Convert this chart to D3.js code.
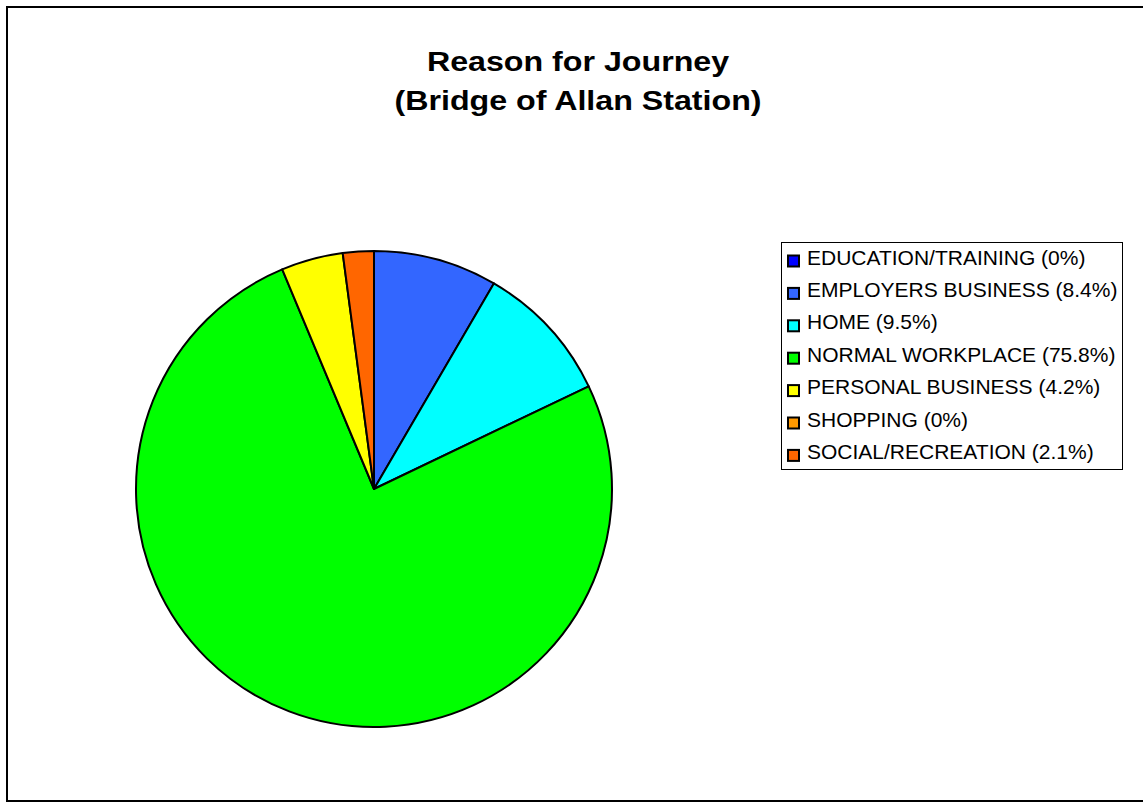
<!DOCTYPE html>
<html><head><meta charset="utf-8">
<script src="https://cdn.jsdelivr.net/npm/d3@7"></script>
<style>body{margin:0;background:#fff}svg{display:block}</style>
</head><body>
<svg id="chart" width="1143" height="803"></svg>
<script>
const categories = ["EDUCATION/TRAINING","EMPLOYERS BUSINESS","HOME","NORMAL WORKPLACE","PERSONAL BUSINESS","SHOPPING","SOCIAL/RECREATION"];
const values = [0, 8.4, 9.5, 75.8, 4.2, 0, 2.1];
const colors = ["#0000FF","#3366FF","#00FFFF","#00FF00","#FFFF00","#FF9900","#FF6600"];
const titleLines = ["Reason for Journey","(Bridge of Allan Station)"];

const svg = d3.select("#chart");
const font = "Liberation Sans, Arial, sans-serif";

svg.append("rect").attr("x",7).attr("y",7).attr("width",1150).attr("height",794)
  .attr("fill","#fff").attr("stroke","#000").attr("stroke-width",2);

svg.append("g").attr("transform","translate(578,0) scale(1.15,1)")
  .selectAll("text").data(titleLines).join("text")
  .attr("x",0).attr("y",(d,i)=>71+i*39.5).attr("text-anchor","middle")
  .attr("font-family",font).attr("font-weight","bold").attr("font-size",28)
  .text(d=>d);

const data = categories.map((c,i)=>({c, v: values[i], col: colors[i]}));
const pie = d3.pie().value(d=>d.v).sort(null);
const arc = d3.arc().innerRadius(0).outerRadius(238);
const g = svg.append("g").attr("transform","translate(374,489)");
g.selectAll("path").data(pie(data).filter(d=>d.data.v>0)).join("path")
  .attr("d",arc).attr("fill",d=>d.data.col).attr("stroke","#000").attr("stroke-width",2)
  .attr("stroke-linejoin","round");

// legend
svg.append("rect").attr("x",781.5).attr("y",242.5).attr("width",341).attr("height",227)
  .attr("fill","#fff").attr("stroke","#000").attr("stroke-width",1);
const lg = svg.append("g");
const rows = lg.selectAll("g").data(data).join("g")
  .attr("transform",(d,i)=>`translate(0,${264.5 + i*32.4})`);
rows.append("rect").attr("x",788).attr("y",-9).attr("width",11).attr("height",11)
  .attr("fill",d=>d.col).attr("stroke","#000").attr("stroke-width",2);
rows.append("text").attr("x",807).attr("y",0)
  .attr("font-family",font).attr("font-size",21)
  .text(d=>`${d.c} (${d.v}%)`);
</script>
</body></html>
